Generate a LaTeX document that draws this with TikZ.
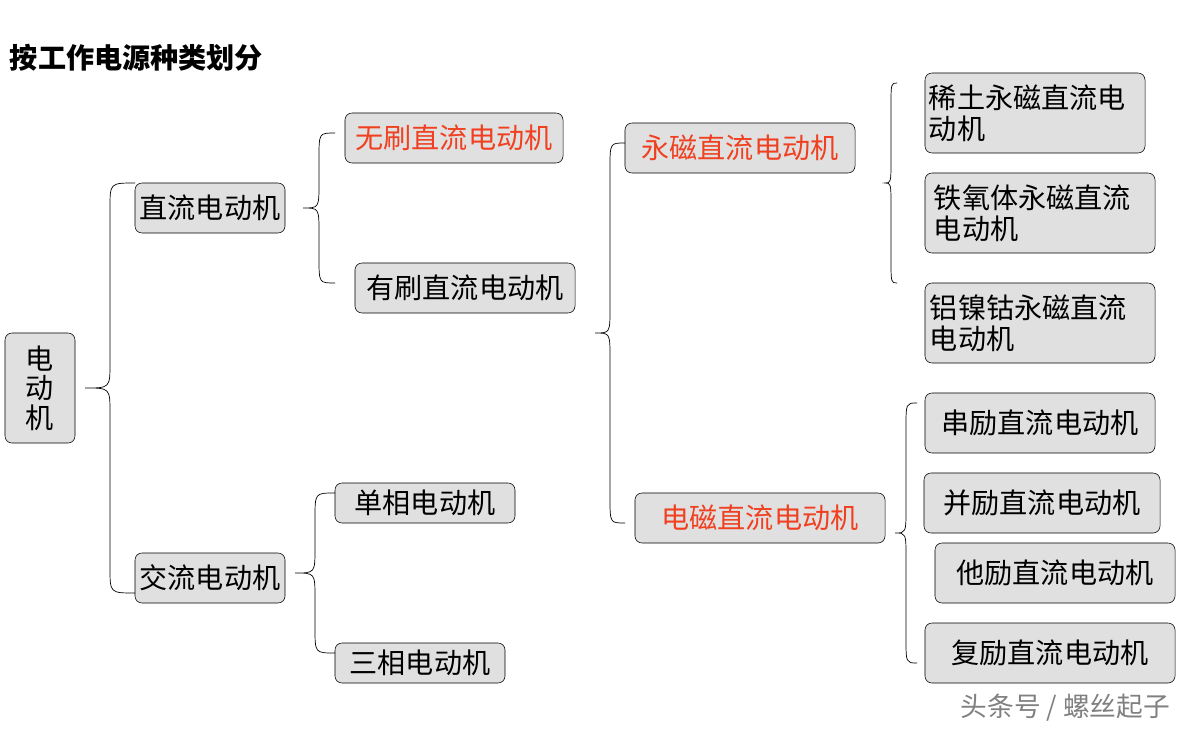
\documentclass[tikz,border=0pt]{standalone}
\usepackage{fontspec}
\setmainfont{Noto Sans CJK SC}
\definecolor{boxgray}{HTML}{E0E0E0}
\definecolor{hired}{HTML}{F04020}
\tikzset{
  box/.style={draw=black, fill=boxgray, rounded corners=5pt, inner sep=2pt,
    font=\fontsize{20}{25}\selectfont},
  hot/.style={box, text=hired},
  brace/.style={draw=black, line width=0.5pt}
}
% curly bracket: end x, tip x, top y, middle y, bottom y
\newcommand\mybrace[5]{%
  \pgfmathsetmacro\xm{(#1+#2)/2}
  \draw[brace] (#1,#3) .. controls (\xm,#3) .. (\xm,#3+25)
    -- (\xm,#4-25) .. controls (\xm,#4) .. (#2,#4)
    .. controls (\xm,#4) .. (\xm,#4+25)
    -- (\xm,#5-25) .. controls (\xm,#5) .. (#1,#5);}
\begin{document}
\begin{tikzpicture}[x=0.025cm,y=-0.025cm]
    \useasboundingbox (0,0) rectangle (1190,730);
    \node[anchor=west, font=\fontsize{20}{24}\selectfont\bfseries] (title) at (5,58) {按工作电源种类划分};

    \node[box, minimum width=1.75cm, minimum height=2.75cm, align=center] (motor) at (40,388) {电\\[-4pt]动\\[-4pt]机};
    \node[box, minimum width=3.75cm, minimum height=1.25cm] (dc) at (210,208) {直流电动机};
    \node[box, minimum width=3.75cm, minimum height=1.25cm] (ac) at (210,578) {交流电动机};

    \node[hot, minimum width=5.45cm, minimum height=1.25cm] (brushless) at (454,138) {无刷直流电动机};
    \node[box, minimum width=5.5cm, minimum height=1.25cm] (brushed) at (465,288) {有刷直流电动机};
    \node[box, minimum width=4.5cm, minimum height=1cm] (single) at (425,503) {单相电动机};
    \node[box, minimum width=4.25cm, minimum height=1cm] (three) at (420,663) {三相电动机};

    \node[hot, minimum width=5.75cm, minimum height=1.25cm] (pm) at (740,148) {永磁直流电动机};
    \node[hot, minimum width=6.25cm, minimum height=1.25cm] (em) at (760,518) {电磁直流电动机};

    \node[box, minimum width=5.5cm, minimum height=2cm, text width=5.3cm, align=left] (rare) at (1035,113) {稀土永磁直流电\\[-3pt]动机};
    \node[box, minimum width=5.75cm, minimum height=2cm, text width=5.3cm, align=left] (ferrite) at (1040,213) {铁氧体永磁直流\\[-3pt]电动机};
    \node[box, minimum width=5.75cm, minimum height=2cm, text width=5.5cm, align=left] (alnico) at (1040,323) {铝镍钴永磁直流\\[-3pt]电动机};
    \node[box, minimum width=5.75cm, minimum height=1.5cm] (series) at (1040,423) {串励直流电动机};
    \node[box, minimum width=5.9cm, minimum height=1.5cm] (shunt) at (1042,503) {并励直流电动机};
    \node[box, minimum width=6cm, minimum height=1.5cm] (separate) at (1055,573) {他励直流电动机};
    \node[box, minimum width=6.25cm, minimum height=1.5cm] (compound) at (1050,653) {复励直流电动机};

    \mybrace{135}{85}{183}{388}{593}
    \mybrace{335}{303}{133}{208}{283}
    \mybrace{335}{295}{493}{573}{653}
    \mybrace{625}{595}{143}{333}{523}
    \mybrace{897}{885}{83}{183}{283}
    \mybrace{917}{895}{403}{533}{663}

    \node[anchor=east, text=gray, font=\fontsize{19}{22}\selectfont] (mark) at (1175,708) {头条号 / 螺丝起子};
\end{tikzpicture}
\end{document}
